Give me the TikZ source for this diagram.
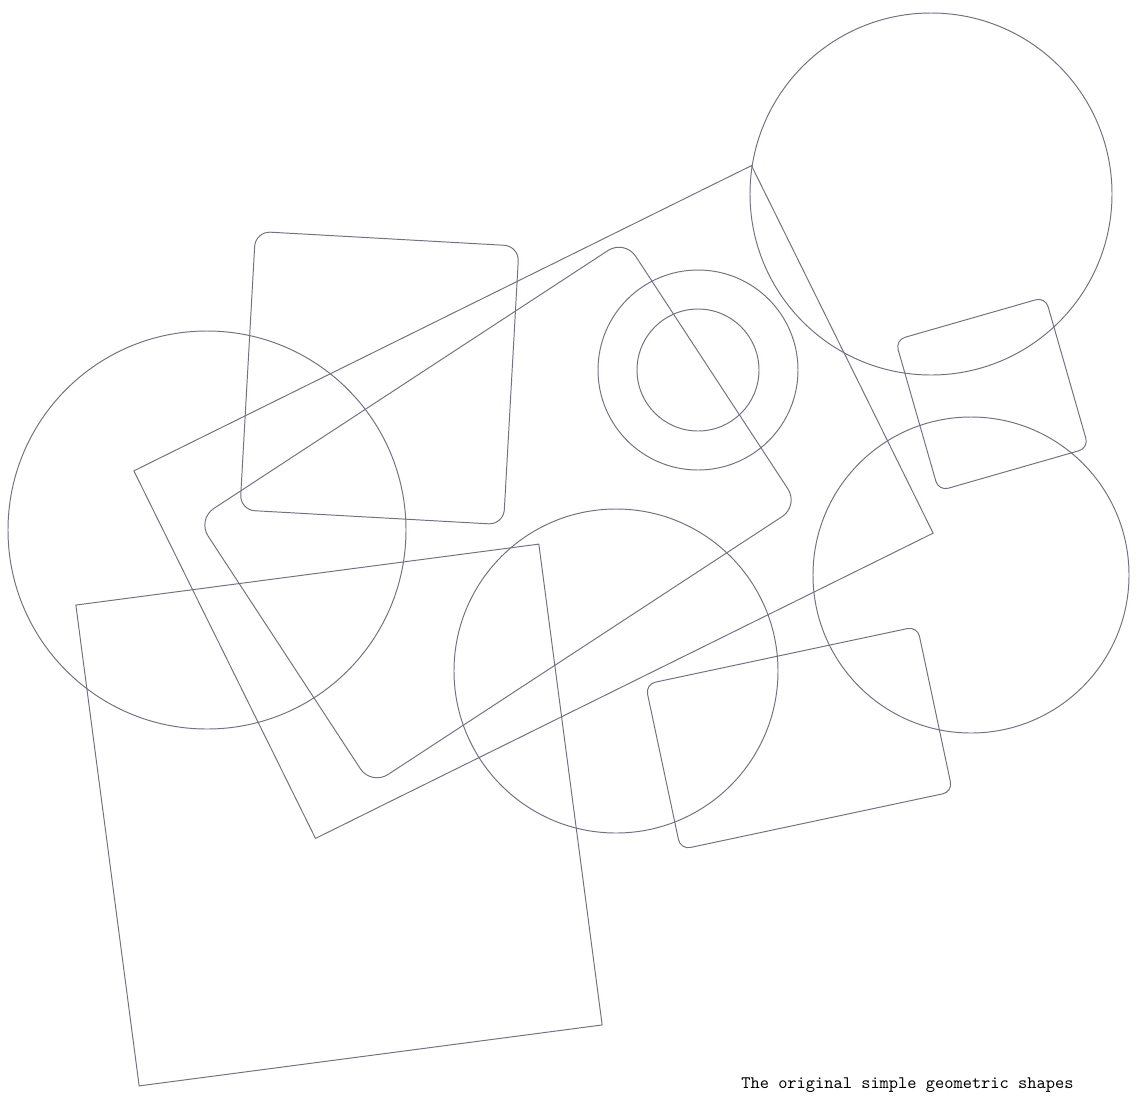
\documentclass[tikz,border=0pt]{standalone}
\usepackage{xcolor}
\usepackage{tikz}

\definecolor{pencil}{RGB}{112,112,135}
\tikzset{
	sketch/.style={draw=pencil, line width=0.55pt},
}

\begin{document}
\begin{tikzpicture}[x=0.2mm,y=-0.2mm]
		\useasboundingbox[fill=white] (0,0) rectangle (1137,1095);
		% circles
		\draw[sketch] (931,194) circle[radius=36.2mm];
		\draw[sketch] (207,530) circle[radius=39.8mm];
		\draw[sketch] (616,671) circle[radius=32.4mm];
		\draw[sketch] (971,575) circle[radius=31.6mm];
		\draw[sketch] (698,370) circle[radius=20mm];
		\draw[sketch] (698,370) circle[radius=12.2mm];
		% rectangles
		\draw[sketch, rounded corners=3mm, rotate around={-3.2:(379.5,378)}] (247.5,238.5) rectangle (511.5,517.5);
		\draw[sketch, rotate around={26.3:(533.5,502)}] (189,297) rectangle (878,707);
		\draw[sketch, rounded corners=4mm, rotate around={33.2:(498,512.5)}] (242.5,353.5) rectangle (753.5,671.5);
		\draw[sketch, rotate around={7.5:(339,815)}] (105.5,572.5) rectangle (572.5,1057.5);
		\draw[sketch, rounded corners=2mm, rotate around={16:(992,394)}] (914,315.5) rectangle (1070,472.5);
		\draw[sketch, rounded corners=2mm, rotate around={12:(799,738)}] (660,653.5) rectangle (938,822.5);
		\node[anchor=base west, inner sep=0pt] (caption) at (741,1088) {\ttfamily The original simple geometric shapes};
	\end{tikzpicture}
\end{document}
